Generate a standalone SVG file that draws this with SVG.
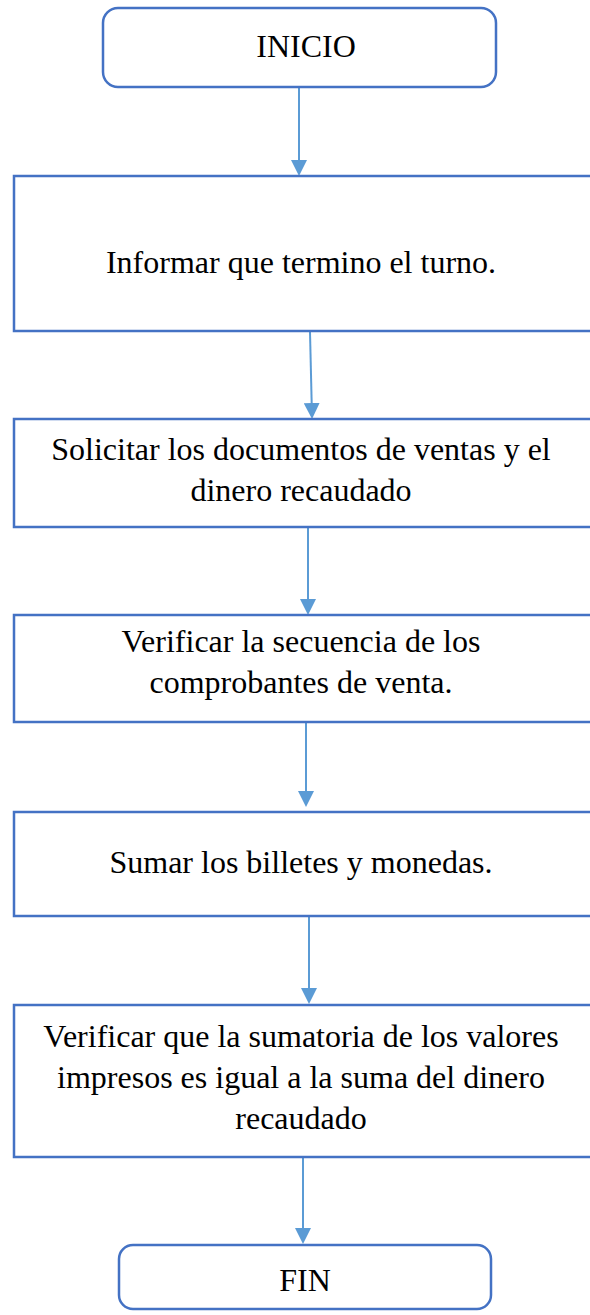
<svg xmlns="http://www.w3.org/2000/svg" width="590" height="1315" viewBox="0 0 590 1315">
<style>
.box{fill:#fff;stroke:#4472C4;stroke-width:2.5}
.t{font-family:"Liberation Serif","Times New Roman",serif;font-size:32px;fill:#000;text-anchor:middle}
.c{stroke:#5B9BD5;stroke-width:2;fill:none;marker-end:url(#ah)}
</style>
<defs>
<marker id="ah" markerWidth="8" markerHeight="8" refX="7" refY="4" orient="auto" markerUnits="strokeWidth">
<path d="M0,0 L8,4 L0,8 Z" fill="#5B9BD5"/>
</marker>
</defs>
<rect width="590" height="1315" fill="#fff"/>
<g id="connectors">
<line class="c" x1="299" y1="88" x2="299" y2="174"/>
<line class="c" x1="310" y1="332" x2="312" y2="417"/>
<line class="c" x1="308" y1="528" x2="308" y2="613"/>
<line class="c" x1="306" y1="723" x2="306" y2="805"/>
<line class="c" x1="309" y1="917" x2="309" y2="1002"/>
<line class="c" x1="303" y1="1158" x2="303" y2="1242"/>
</g>
<g id="inicio">
<rect class="box" x="103" y="8" width="393" height="79" rx="15"/>
<text class="t" x="306" y="57">INICIO</text>
</g>
<g id="n1">
<rect class="box" x="14" y="176" width="600" height="155"/>
<text class="t" x="301" y="273">Informar que termino el turno.</text>
</g>
<g id="n2">
<rect class="box" x="14" y="419" width="600" height="108"/>
<text class="t" x="301" y="460">Solicitar los documentos de ventas y el</text>
<text class="t" x="301" y="501">dinero recaudado</text>
</g>
<g id="n3">
<rect class="box" x="14" y="615" width="600" height="107"/>
<text class="t" x="301" y="652">Verificar la secuencia de los</text>
<text class="t" x="301" y="693">comprobantes de venta.</text>
</g>
<g id="n4">
<rect class="box" x="14" y="812" width="600" height="104"/>
<text class="t" x="301" y="873">Sumar los billetes y monedas.</text>
</g>
<g id="n5">
<rect class="box" x="14" y="1005" width="600" height="152"/>
<text class="t" x="301" y="1047">Verificar que la sumatoria de los valores</text>
<text class="t" x="301" y="1088">impresos es igual a la suma del dinero</text>
<text class="t" x="301" y="1129">recaudado</text>
</g>
<g id="fin">
<rect class="box" x="119" y="1245" width="372" height="64" rx="14"/>
<text class="t" x="305" y="1291">FIN</text>
</g>
</svg>
